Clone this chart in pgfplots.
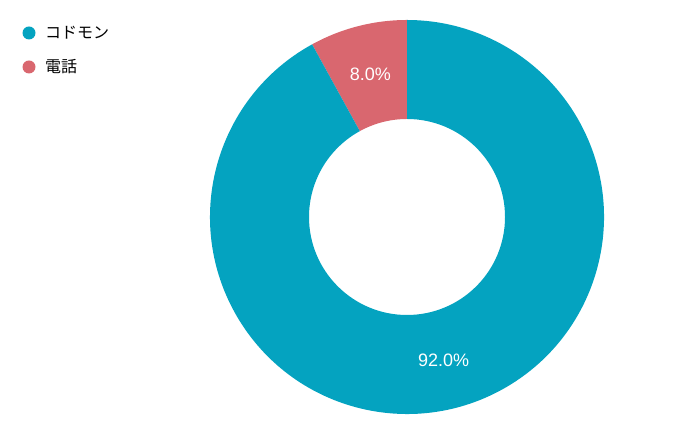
\documentclass[border=0pt]{standalone}
\usepackage{pgfplots}
\pgfplotsset{compat=1.18}
\usepackage{fontspec}
\setmainfont{Liberation Sans}
\newfontfamily\cjk{Noto Sans CJK JP}
\definecolor{cTeal}{HTML}{04A3C0}
\definecolor{cRed}{HTML}{D9676F}
\begin{document}
\begin{tikzpicture}
% data: share in percent
\def\vRed{8.0}
\def\vTeal{92.0}
\def\cx{407}\def\cy{219}
\def\ro{197}\def\ri{98}
\pgfmathsetmacro\sA{90}
\pgfmathsetmacro\eA{90+\vRed*3.6}
\pgfmathsetmacro\eB{\eA+\vTeal*3.6}
\pgfmathsetmacro\mA{(\sA+\eA)/2}
\pgfmathsetmacro\mB{(\eA+\eB)/2}
\pgfmathsetmacro\rm{(\ro+\ri)/2}
\begin{axis}[scale only axis, width=700pt, height=436pt,
  xmin=0, xmax=700, ymin=0, ymax=436, hide axis, clip=false]
\path (axis cs:0,0) rectangle (axis cs:700,436);
\fill[cRed] ([shift={(\sA:\ro pt)}]axis cs:\cx,\cy) arc[start angle=\sA, end angle=\eA, radius=\ro pt]
  -- ([shift={(\eA:\ri pt)}]axis cs:\cx,\cy) arc[start angle=\eA, end angle=\sA, radius=\ri pt] -- cycle;
\fill[cTeal] ([shift={(\eA:\ro pt)}]axis cs:\cx,\cy) arc[start angle=\eA, end angle=\eB, radius=\ro pt]
  -- ([shift={(\eB:\ri pt)}]axis cs:\cx,\cy) arc[start angle=\eB, end angle=\eA, radius=\ri pt] -- cycle;
\node[white, font=\fontsize{18}{20}\selectfont] at ([shift={(\mA:\rm pt)}]axis cs:\cx,\cy) {8.0\%};
\node[white, font=\fontsize{18}{20}\selectfont] at ([shift={(\mB:\rm pt)}]axis cs:\cx,\cy) {92.0\%};
% legend
\fill[cTeal] (axis cs:29,403) circle[radius=6.5pt];
\node[anchor=west, inner sep=0pt, font=\cjk\fontsize{16}{18}\selectfont] at (axis cs:45,403) {コドモン};
\fill[cRed] (axis cs:29,369) circle[radius=6.5pt];
\node[anchor=west, inner sep=0pt, font=\cjk\fontsize{16}{18}\selectfont] at (axis cs:45,369) {電話};
\end{axis}
\end{tikzpicture}
\end{document}
